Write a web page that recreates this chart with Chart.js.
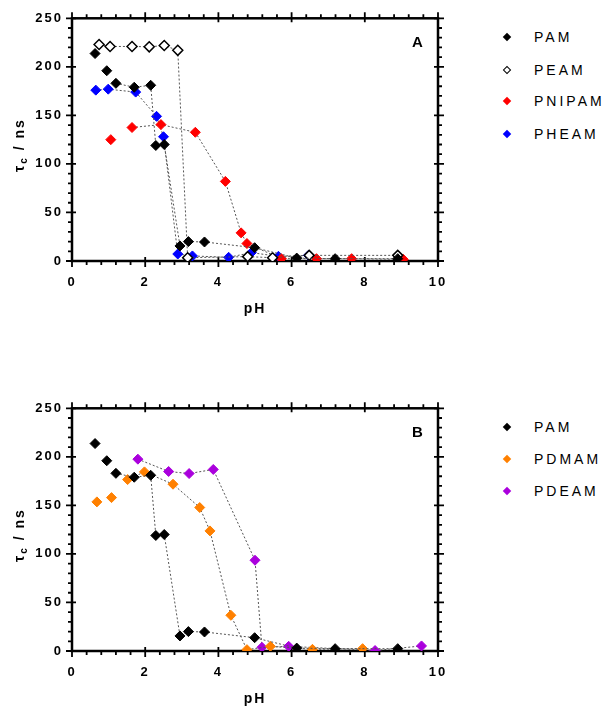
<!DOCTYPE html>
<html>
<head>
<meta charset="utf-8">
<script src="https://cdn.jsdelivr.net/npm/chart.js@4.4.1/dist/chart.umd.min.js"></script>
<style>
  body { margin: 0; width: 606px; height: 706px; overflow: hidden; background: #fff; position: relative;
         font-family: "Liberation Sans", Arial, sans-serif; }
  .panel { position: absolute; left: 0; width: 470px; height: 320px; }
  .ytitle { position: absolute; font-weight: bold; font-size: 14px; letter-spacing: 2px; white-space: nowrap;
            transform: translate(-50%, -50%) rotate(-90deg); }
  .ytitle sub { font-size: 10px; vertical-align: -3px; }
  .lg-mark { position: absolute; width: 6px; height: 6px; transform: translate(-50%, -50%) rotate(45deg); }
  .lg-text { position: absolute; font-size: 14px; line-height: 16px; letter-spacing: 3px; white-space: nowrap; }
</style>
</head>
<body>
<div class="panel" style="top:0"><canvas id="chartA" width="470" height="320"></canvas></div>
<div class="panel" style="top:390px"><canvas id="chartB" width="470" height="320"></canvas></div>
<div class="ytitle" style="left:20px;top:145px">τ<sub>c</sub> / ns</div>
<div class="ytitle" style="left:20px;top:535px">τ<sub>c</sub> / ns</div>
<div id="legends"></div>
<script>
// pH / tau_c values
const pamPH = [0.63, 0.95, 1.20, 1.70, 2.15, 2.29, 2.52, 2.95, 3.18, 3.62, 4.99, 6.14, 7.19, 8.90];
const pamTau = [213.7, 196, 183, 179, 181, 119, 120, 15.5, 20, 19.6, 13.7, 3, 2.4, 2.4];

const peamPH = [0.74, 1.04, 1.64, 2.11, 2.52, 2.89, 3.16, 4.80, 5.48, 6.48, 8.90];
const peamTau = [223, 221, 221, 220.6, 222, 217, 3.4, 4.5, 3.4, 5.8, 5.8];

const pnipamPH = [1.06, 1.64, 2.43, 3.37, 4.19, 4.62, 4.78, 5.72, 6.68, 7.64, 9.05];
const pnipamTau = [125, 137.5, 140.5, 132.6, 82, 29, 18, 2.4, 2.4, 2.4, 1.7];

const pheamPH = [0.65, 0.99, 1.74, 2.31, 2.50, 2.89, 3.29, 4.28, 4.90, 5.64, 6.46];
const pheamTau = [176, 177, 174, 149, 128, 7.2, 5.2, 3.8, 8.6, 4.8, 5.8];

const pdmamPH = [0.68, 1.08, 1.52, 1.98, 2.76, 3.49, 3.77, 4.34, 4.78, 5.42, 6.57, 7.94];
const pdmamTau = [153.6, 158, 176.6, 184.5, 171.8, 147.8, 123.7, 36.8, 1.4, 4.8, 1.7, 2.4];

const pdeamPH = [1.80, 2.64, 3.20, 3.86, 5.00, 5.19, 5.92, 8.28, 9.55];
const pdeamTau = [197.6, 184.9, 182.8, 187, 93.5, 3.8, 4.8, 0.5, 5.2];

const xTicks = [0, 2, 4, 6, 8, 10];
const yTicks = [0, 50, 100, 150, 200, 250];

const FONT = '"Liberation Sans", Arial, sans-serif';

function series(label, xs, ys, fill, border, lineFrom) {
  return {
    label,
    data: xs.map((x, i) => ({ x, y: ys[i] })),
    showLine: true,
    borderColor: '#555',
    borderWidth: 1,
    borderDash: [2, 2],
    segment: {
      borderColor: c => (c.p0DataIndex < lineFrom ? 'rgba(0,0,0,0)' : '#555'),
    },
    pointStyle: 'rectRot',
    pointRadius: 5,
    pointHoverRadius: 5,
    pointBackgroundColor: fill,
    pointBorderColor: border,
    pointBorderWidth: fill === '#fff' ? 1.5 : 1,
  };
}

const frame = {
  id: 'frame',
  beforeDraw(chart) {
    chart.ctx.letterSpacing = '2px';
  },
  beforeDatasetsDraw(chart, args, opts) {
    const { ctx, chartArea: a, scales: { x, y } } = chart;
    ctx.save();
    ctx.letterSpacing = '0px';
    ctx.strokeStyle = '#000';
    ctx.lineWidth = 2.5;
    ctx.strokeRect(a.left, a.top, a.right - a.left, a.bottom - a.top);
    ctx.lineWidth = 1.8;
    ctx.beginPath();
    for (let i = 0; i <= 25; i++) {
      const py = y.getPixelForValue(i * 10);
      const major = i % 5 === 0;
      ctx.moveTo(a.left - (major ? 6 : 4), py);
      ctx.lineTo(a.left + (major ? 4 : 0), py);
      ctx.moveTo(a.right + (major ? 6 : 4), py);
      ctx.lineTo(a.right - (major ? 4 : 0), py);
    }
    for (let i = 0; i <= 25; i++) {
      const px = x.getPixelForValue(i * 0.4);
      const major = i % 5 === 0;
      ctx.moveTo(px, a.bottom + (major ? 6 : 4));
      ctx.lineTo(px, a.bottom - (major ? 4 : 0));
      ctx.moveTo(px, a.top - (major ? 6 : 4));
      ctx.lineTo(px, a.top + (major ? 4 : 0));
    }
    ctx.stroke();
    ctx.fillStyle = '#000';
    ctx.font = 'bold 15px ' + FONT;
    ctx.textAlign = 'center';
    ctx.textBaseline = 'middle';
    ctx.fillText(opts.letter, a.right - 20.5, a.top + 24.5);
    ctx.restore();
  },
};

function makeChart(id, letter, datasets) {
  return new Chart(document.getElementById(id), {
    type: 'scatter',
    data: { datasets },
    options: {
      responsive: false,
      animation: false,
      events: [],
      layout: { padding: { top: 18.3, right: 32, bottom: 0, left: 0 } },
      plugins: { legend: { display: false }, tooltip: { enabled: false }, frame: { letter } },
      scales: {
        x: {
          type: 'linear', min: 0, max: 10,
          afterFit: s => { s.height = 59; },
          afterBuildTicks: s => { s.ticks = xTicks.map(v => ({ value: v })); },
          grid: { display: false, drawTicks: false },
          border: { display: false },
          ticks: { padding: 14, color: '#000', font: { family: FONT, size: 13, weight: 'bold' }, maxRotation: 0, autoSkip: false },
          title: { display: true, text: 'pH', color: '#000', font: { family: FONT, size: 14, weight: 'bold' }, padding: { top: 0, bottom: 2.6 } },
        },
        y: {
          type: 'linear', min: 0, max: 250,
          afterFit: s => { s.width = 72; },
          afterBuildTicks: s => { s.ticks = yTicks.map(v => ({ value: v })); },
          grid: { display: false, drawTicks: false },
          border: { display: false },
          ticks: { padding: 9, color: '#000', font: { family: FONT, size: 13, weight: 'bold' } },
        },
      },
    },
    plugins: [frame],
  });
}

const dsA = [
  series('PAM', pamPH, pamTau, '#000', '#000', 2),
  series('PEAM', peamPH, peamTau, '#fff', '#000', 0),
  series('PNIPAM', pnipamPH, pnipamTau, '#ff0000', '#ff0000', 1),
  series('PHEAM', pheamPH, pheamTau, '#0000ff', '#0000ff', 0),
];
const dsB = [
  series('PAM', pamPH, pamTau, '#000', '#000', 2),
  series('PDMAM', pdmamPH, pdmamTau, '#ff8000', '#ff8000', 2),
  series('PDEAM', pdeamPH, pdeamTau, '#aa00dd', '#aa00dd', 0),
];

makeChart('chartA', 'A', dsA);
makeChart('chartB', 'B', dsB);

// legends at right
function legend(datasets, rows) {
  const box = document.getElementById('legends');
  datasets.forEach((d, i) => {
    const m = document.createElement('div');
    m.className = 'lg-mark';
    m.style.left = '507px';
    m.style.top = rows[i] + 'px';
    m.style.background = d.pointBackgroundColor;
    m.style.boxSizing = 'border-box';
    m.style.border = d.pointBackgroundColor === '#fff' ? '1.5px solid #000' : 'none';
    box.appendChild(m);
    const t = document.createElement('div');
    t.className = 'lg-text';
    t.style.left = '534px';
    t.style.top = (rows[i] - 7.9) + 'px';
    t.textContent = d.label;
    box.appendChild(t);
  });
}
legend(dsA, [37.3, 70, 101, 134.3]);
legend(dsB, [426.7, 458.5, 491]);
</script>
</body>
</html>
